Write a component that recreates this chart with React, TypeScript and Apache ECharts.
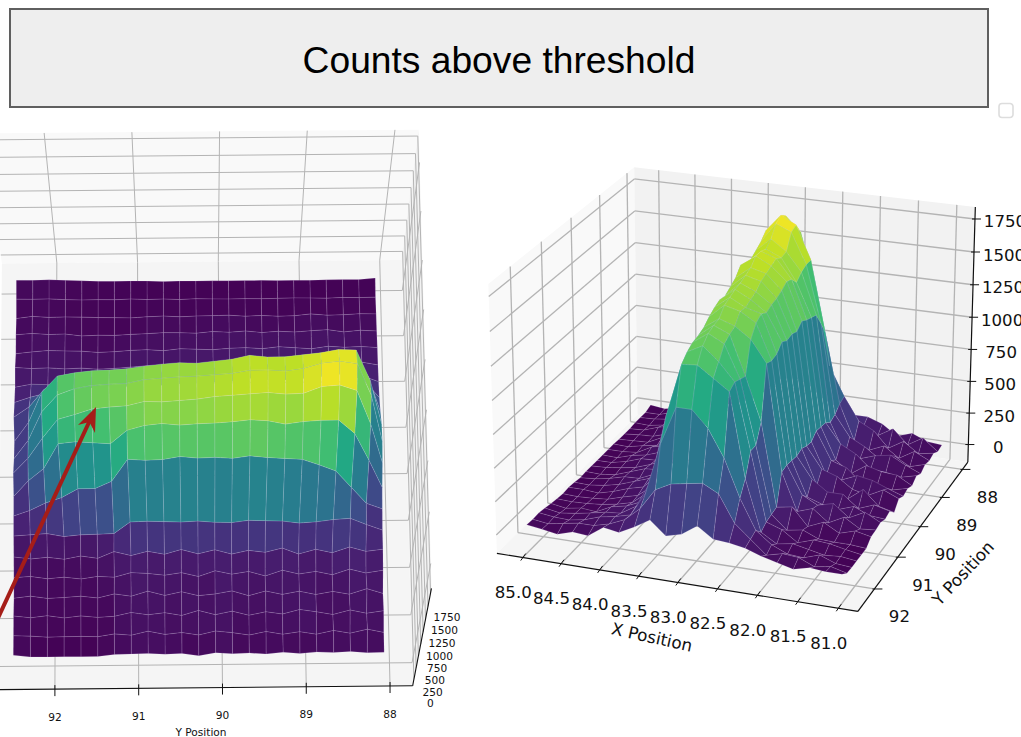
import React, { useEffect, useRef } from "react";
import * as echarts from "echarts";

const xPositions = [81.02, 81.22, 81.42, 81.62, 81.82, 82.02, 82.22, 82.42, 82.62, 82.82, 83.02, 83.22, 83.42, 83.62, 83.82, 84.02, 84.22, 84.42, 84.62, 84.82, 85.02];
const yPositions = [88.08, 88.28, 88.48, 88.68, 88.88, 89.08, 89.28, 89.48, 89.68, 89.88, 90.08, 90.28, 90.48, 90.68, 90.88, 91.08, 91.28, 91.48, 91.68, 91.88, 92.08, 92.28, 92.48];

const counts00 = [50, 40, 70, 55, 70, 40, 70, 35, 60, 45, 70, 10, 65, 50, 70, 60, 55, 15, 15, 15, 15, 20, 60];
const counts01 = [60, 130, 50, 110, 35, 90, 40, 100, 30, 85, 120, 40, 95, 60, 130, 50, 80, 25, 35, 30, 25, 50, 60];
const counts02 = [110, 60, 130, 40, 100, 150, 60, 110, 40, 130, 60, 150, 50, 110, 70, 120, 45, 25, 60, 20, 70, 30, 70];
const counts03 = [70, 170, 60, 120, 60, 130, 70, 140, 50, 150, 90, 60, 140, 70, 160, 60, 110, 30, 70, 45, 30, 80, 40];
const counts04 = [150, 100, 180, 70, 140, 90, 170, 60, 150, 100, 170, 60, 140, 90, 130, 150, 60, 80, 30, 70, 40, 90, 70];
const counts05 = [190, 150, 240, 130, 200, 110, 230, 150, 190, 120, 210, 130, 220, 130, 190, 110, 190, 60, 110, 50, 90, 60, 100];
const counts06 = [190, 300, 420, 400, 360, 340, 380, 390, 400, 360, 370, 395, 380, 390, 400, 390, 170, 160, 150, 120, 180, 160, 140];
const counts07 = [230, 340, 640, 940, 1050, 1150, 1170, 1190, 1220, 1180, 1200, 1190, 1220, 1170, 1160, 1180, 790, 660, 660, 500, 400, 260, 160];
const counts08 = [280, 780, 1250, 1480, 1480, 1460, 1420, 1480, 1500, 1470, 1450, 1440, 1420, 1450, 1420, 1340, 1110, 1130, 1150, 1120, 680, 460, 170];
const counts09 = [380, 1080, 1640, 1730, 1710, 1600, 1590, 1620, 1600, 1580, 1560, 1520, 1500, 1480, 1490, 1420, 1400, 1370, 1280, 1200, 880, 520, 250];
const counts10 = [420, 1230, 1750, 1790, 1760, 1680, 1640, 1660, 1660, 1610, 1590, 1570, 1560, 1540, 1520, 1460, 1450, 1430, 1380, 1280, 1000, 500, 170];
const counts11 = [390, 1150, 1650, 1660, 1610, 1580, 1550, 1550, 1580, 1520, 1490, 1460, 1470, 1450, 1420, 1380, 1360, 1350, 1320, 1270, 1000, 480, 140];
const counts12 = [280, 900, 1200, 1220, 1170, 1110, 1090, 1120, 1130, 1080, 1070, 1030, 1040, 1010, 1000, 970, 980, 940, 920, 880, 720, 420, 240];
const counts13 = [200, 480, 620, 600, 560, 540, 510, 530, 560, 500, 490, 480, 470, 450, 460, 430, 440, 420, 400, 380, 330, 260, 170];
const counts14 = [150, 250, 280, 300, 270, 260, 230, 240, 260, 250, 240, 220, 210, 200, 220, 230, 190, 180, 160, 170, 150, 160, 110];
const counts15 = [120, 170, 150, 190, 180, 150, 160, 170, 170, 130, 160, 150, 120, 130, 140, 120, 100, 90, 110, 100, 120, 110, 130];
const counts16 = [100, 120, 110, 130, 90, 110, 130, 100, 120, 110, 90, 100, 110, 80, 100, 90, 70, 60, 85, 90, 100, 80, 50];
const counts17 = [70, 85, 60, 100, 85, 65, 80, 60, 90, 70, 85, 60, 70, 75, 60, 50, 35, 40, 30, 65, 60, 80, 60];
const counts18 = [50, 55, 40, 35, 60, 30, 25, 40, 30, 50, 45, 40, 30, 45, 35, 20, 25, 30, 40, 45, 40, 60, 25];
const counts19 = [25, 20, 25, 15, 20, 25, 20, 15, 20, 15, 20, 25, 15, 25, 20, 30, 20, 25, 20, 30, 45, 40, 45];
const counts20 = [40, 20, 20, 20, 15, 15, 15, 20, 20, 20, 20, 20, 20, 15, 25, 30, 25, 30, 40, 50, 60, 55, 60];
const countRows = [counts00, counts01, counts02, counts03, counts04, counts05, counts06, counts07, counts08, counts09, counts10, counts11, counts12, counts13, counts14, counts15, counts16, counts17, counts18, counts19, counts20];

const xTicks = ["85.0", "84.5", "84.0", "83.5", "83.0", "82.5", "82.0", "81.5", "81.0"];
const yTicks = ["92", "91", "90", "89", "88"];
const zTicks = ["0", "250", "500", "750", "1000", "1250", "1500", "1750"];

const TITLE = "Counts above threshold";
const X_LIM = [80.76, 85.34];
const Y_LIM = [87.73, 92.68];
const Z_LIM = [-140, 1840];

const viridis = ["#440154", "#482475", "#414487", "#355f8d", "#2a788e", "#21918c", "#22a884", "#44bf70", "#7ad151", "#bddf26", "#fde725"];
const hexRgb = (h: string) => [1, 3, 5].map((i) => parseInt(h.slice(i, i + 2), 16));
function cmap(t: number) {
  const p = Math.max(0, Math.min(1, t)) * (viridis.length - 1);
  const i = Math.min(viridis.length - 2, Math.floor(p));
  const a = hexRgb(viridis[i]);
  const b = hexRgb(viridis[i + 1]);
  const f = p - i;
  return `rgb(${a.map((v, k) => Math.round(v + (b[k] - v) * f)).join(",")})`;
}

type View = { elev: number; azim: number; sx: number; sy: number; cx: number; cy: number };
const leftView: View = { elev: 71, azim: 179.5, sx: 3565, sy: 3926, cx: 203.5, cy: 416 };
const rightView: View = { elev: 22, azim: 110, sx: 3136, sy: 3164, cx: 740, cy: 377.4 };

const HX = 0.595;
const HZ = 0.4465;
function project(v: View, X: number, Y: number, Z: number) {
  const e = (v.elev * Math.PI) / 180;
  const a = (v.azim * Math.PI) / 180;
  const px = ((X - X_LIM[0]) / (X_LIM[1] - X_LIM[0]) - 0.5) * 2 * HX;
  const py = ((Y - Y_LIM[0]) / (Y_LIM[1] - Y_LIM[0]) - 0.5) * 2 * HX;
  const pz = ((Z - Z_LIM[0]) / (Z_LIM[1] - Z_LIM[0]) - 0.5) * 2 * HZ;
  const depth = px * Math.cos(e) * Math.cos(a) + py * Math.cos(e) * Math.sin(a) + pz * Math.sin(e);
  const right = -px * Math.sin(a) + py * Math.cos(a);
  const up = -px * Math.sin(e) * Math.cos(a) - py * Math.sin(e) * Math.sin(a) + pz * Math.cos(e);
  const w = 10 - depth;
  return { x: v.cx + (v.sx * right) / w, y: v.cy - (v.sy * up) / w, depth };
}

const allCounts = countRows.flat();
const zMin = Math.min(...allCounts);
const zMax = Math.max(...allCounts);

function buildCells(v: View) {
  const cells: any[] = [];
  for (let i = 0; i < xPositions.length - 1; i++) {
    for (let j = 0; j < yPositions.length - 1; j++) {
      const corners = [
        [i, j],
        [i + 1, j],
        [i + 1, j + 1],
        [i, j + 1],
      ].map(([a, b]) => project(v, xPositions[a], yPositions[b], countRows[a][b]));
      const mean = (countRows[i][j] + countRows[i + 1][j] + countRows[i + 1][j + 1] + countRows[i][j + 1]) / 4;
      cells.push({
        points: corners.map((c) => [c.x, c.y]),
        depth: corners.reduce((s, c) => s + c.depth, 0) / 4,
        fill: cmap((mean - zMin) / (zMax - zMin)),
      });
    }
  }
  return cells.sort((p, q) => p.depth - q.depth);
}

const GRID = "#b4b4b4";
function buildFrame(v: View, gridWidth: number) {
  const out: any[] = [];
  const [x0, x1] = X_LIM;
  const [y0, y1] = Y_LIM;
  const [z0, z1] = Z_LIM;
  const poly = (pts: number[][], fill: string) =>
    out.push({ t: "poly", points: pts.map((p) => { const q = project(v, p[0], p[1], p[2]); return [q.x, q.y]; }), fill });
  const line = (a: number[], b: number[]) => {
    const p = project(v, a[0], a[1], a[2]);
    const q = project(v, b[0], b[1], b[2]);
    out.push({ t: "line", x1: p.x, y1: p.y, x2: q.x, y2: q.y, stroke: GRID, width: gridWidth });
  };
  poly([[x1, y0, z0], [x1, y1, z0], [x1, y1, z1], [x1, y0, z1]], "#f9f9f9");
  poly([[x0, y0, z0], [x1, y0, z0], [x1, y0, z1], [x0, y0, z1]], "#f2f2f2");
  poly([[x0, y0, z0], [x1, y0, z0], [x1, y1, z0], [x0, y1, z0]], "#f5f5f5");
  xTicks.forEach((l) => {
    const X = Number(l);
    line([X, y0, z0], [X, y1, z0]);
    line([X, y0, z0], [X, y0, z1]);
  });
  yTicks.forEach((l) => {
    const Y = Number(l);
    line([x0, Y, z0], [x1, Y, z0]);
    line([x1, Y, z0], [x1, Y, z1]);
  });
  zTicks.forEach((l) => {
    const Z = Number(l);
    line([x1, y0, Z], [x1, y1, Z]);
    line([x0, y0, Z], [x1, y0, Z]);
  });
  return out;
}

const INK = "#111111";
const FONT = '"DejaVu Sans"';
function segment(p: any, q: any, width = 1.2) {
  return { t: "line", x1: p.x, y1: p.y, x2: q.x, y2: q.y, stroke: INK, width };
}
function tick(p: any, a: number[], b: number[]) {
  return { t: "line", x1: p.x + a[0], y1: p.y + a[1], x2: p.x + b[0], y2: p.y + b[1], stroke: INK, width: 1 };
}
function label(text: string, x: number, y: number, size: number, rot = 0) {
  return { t: "text", text, x, y, size, rot };
}

function buildLeftAxes() {
  const v = leftView;
  const out: any[] = [];
  out.push(segment(project(v, X_LIM[0], Y_LIM[0], Z_LIM[0]), project(v, X_LIM[0], Y_LIM[1], Z_LIM[0]), 1.1));
  out.push(segment(project(v, X_LIM[0], Y_LIM[0], Z_LIM[0]), project(v, X_LIM[0], Y_LIM[0], Z_LIM[1]), 1.1));
  yTicks.forEach((l) => {
    const p = project(v, X_LIM[0], Number(l), Z_LIM[0]);
    out.push(tick(p, [0, -4], [0, 7]));
    out.push(label(l, p.x, p.y + 27.5, 10.6));
  });
  zTicks.forEach((l) => {
    const p = project(v, X_LIM[0], Y_LIM[0], Number(l));
    out.push(label(l, p.x + 16.5, p.y + 24, 10.6));
  });
  out.push(label("Y Position", 201, 732, 10.6));
  return out;
}

function buildRightAxes() {
  const v = rightView;
  const out: any[] = [];
  out.push(segment(project(v, X_LIM[0], Y_LIM[1], Z_LIM[0]), project(v, X_LIM[1], Y_LIM[1], Z_LIM[0])));
  out.push(segment(project(v, X_LIM[0], Y_LIM[0], Z_LIM[0]), project(v, X_LIM[0], Y_LIM[1], Z_LIM[0])));
  out.push(segment(project(v, X_LIM[0], Y_LIM[0], Z_LIM[0]), project(v, X_LIM[0], Y_LIM[0], Z_LIM[1])));
  xTicks.forEach((l) => {
    const p = project(v, Number(l), Y_LIM[1], Z_LIM[0]);
    out.push(tick(p, [-2, 3], [3, -4]));
    out.push(label(l, p.x - 9.5, p.y + 35, 16.6));
  });
  yTicks.forEach((l) => {
    const p = project(v, X_LIM[0], Number(l), Z_LIM[0]);
    out.push(tick(p, [-2, 0], [8, 0]));
    out.push(label(l, p.x + 25, p.y + 28, 16.6));
  });
  zTicks.forEach((l) => {
    const p = project(v, X_LIM[0], Y_LIM[0], Number(l));
    out.push(tick(p, [-3, 0], [6, 0]));
    out.push(label(l, p.x + 30, p.y + 3, 16.6));
  });
  out.push(label("X Position", 652, 637, 16.8, -12.4));
  out.push(label("Y Position", 963, 573, 16.8, 46.6));
  return out;
}

function primitiveSeries(items: any[], z: number) {
  return {
    type: "custom",
    coordinateSystem: "none",
    silent: true,
    clip: false,
    z,
    data: items.map((_, i) => [i]),
    renderItem: (params: any) => {
      const it = items[params.dataIndex];
      const z2 = params.dataIndex;
      if (it.t === "poly") {
        return { type: "polygon", z2, silent: true, shape: { points: it.points }, style: { fill: it.fill, stroke: it.stroke || "none", lineWidth: it.width || 0 } };
      }
      if (it.t === "line") {
        return { type: "line", z2, silent: true, shape: { x1: it.x1, y1: it.y1, x2: it.x2, y2: it.y2 }, style: { stroke: it.stroke, lineWidth: it.width } };
      }
      return {
        type: "text",
        z2,
        silent: true,
        x: it.x,
        y: it.y,
        rotation: (it.rot * Math.PI) / 180,
        style: { x: 0, y: 0, text: it.text, fontFamily: FONT, fontSize: it.size, fill: INK, align: "center", verticalAlign: "middle" },
      };
    },
  };
}

function cellItems(v: View) {
  return buildCells(v).map((c) => ({ t: "poly", points: c.points, fill: c.fill, stroke: "rgba(235,215,255,0.28)", width: 0.5 }));
}

export default function App() {
  const ref = useRef<HTMLDivElement>(null);
  useEffect(() => {
    const chart = echarts.init(ref.current!, undefined, { renderer: "svg" });
    chart.setOption({
      animation: false,
      backgroundColor: "#ffffff",
      series: [
        primitiveSeries(buildFrame(leftView, 1), 1),
        primitiveSeries(cellItems(leftView), 2),
        primitiveSeries(buildLeftAxes(), 3),
        primitiveSeries(buildFrame(rightView, 1.3), 1),
        primitiveSeries(cellItems(rightView), 2),
        primitiveSeries(buildRightAxes(), 3),
      ],
      graphic: [
        { type: "rect", z: 50, silent: true, shape: { x: 10, y: 9, width: 978, height: 98 }, style: { fill: "#eeeeee", stroke: "#5f5f5f", lineWidth: 2 } },
        { type: "text", z: 51, silent: true, style: { x: 499, y: 59.5, text: TITLE, fontFamily: '"Liberation Sans"', fontSize: 37.2, fill: "#000000", align: "center", verticalAlign: "middle" } },
        { type: "rect", z: 50, silent: true, shape: { x: 999, y: 103.5, width: 14, height: 14, r: 3 }, style: { fill: "#ffffff", stroke: "#dddddd", lineWidth: 1.6 } },
        { type: "line", z: 60, silent: true, shape: { x1: -2, y1: 618, x2: 91, y2: 418 }, style: { stroke: "#a51d18", lineWidth: 4 } },
        { type: "polygon", z: 61, silent: true, shape: { points: [[96, 407], [95, 433], [89.5, 422], [78, 425]] }, style: { fill: "#a51d18" } },
      ],
    });
    return () => chart.dispose();
  }, []);
  return <div ref={ref} style={{ position: "fixed", left: 0, top: 0, width: 1021, height: 737, overflow: "hidden" }} />;
}
